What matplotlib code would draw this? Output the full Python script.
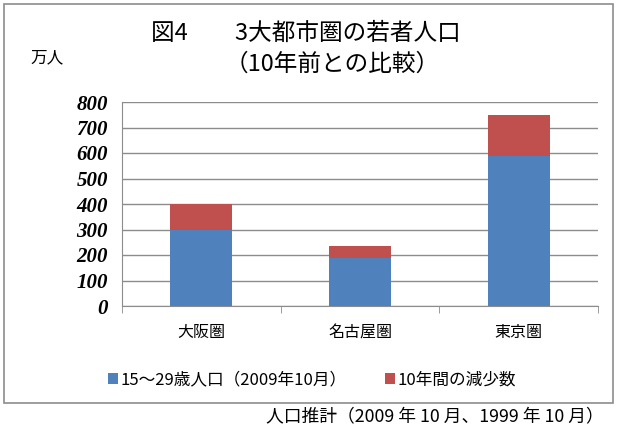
import matplotlib
matplotlib.use("Agg")
import matplotlib.pyplot as plt
from matplotlib.patches import Rectangle
import numpy as np

plt.rcParams['font.family'] = ['Noto Sans CJK JP', 'DejaVu Sans']

categories = ['大阪圏', '名古屋圏', '東京圏']
pop_2009 = [298, 190, 588]
decrease_10y = [102, 44, 162]
yticks = [0, 100, 200, 300, 400, 500, 600, 700, 800]
series_names = ['15～29歳人口（2009年10月）', '10年間の減少数']
blue = '#4F81BD'
red = '#C0504D'

W, H = 625, 430
fig = plt.figure(figsize=(W/100, H/100), dpi=100)
fig.patch.set_facecolor('white')

# outer chart frame
fig.patches.append(Rectangle((4/W, 1-403/H), 609/W, 399/H, transform=fig.transFigure,
                             fill=False, edgecolor='#8c8c8c', linewidth=1.2))

ax = fig.add_axes([122/W, 1-306/H, (598-122)/W, (306-102)/H])
x = np.arange(len(categories))
ax.bar(x, pop_2009, width=0.39, color=blue, zorder=3, label=series_names[0])
ax.bar(x, decrease_10y, width=0.39, bottom=pop_2009, color=red, zorder=3, label=series_names[1])

ax.set_xlim(-0.5, 2.5)
ax.set_ylim(0, 800)
ax.set_yticks(yticks)
ax.set_yticklabels([str(v) for v in yticks], family='Liberation Serif',
                   fontstyle='italic', fontweight='bold', fontsize=15)
ax.yaxis.grid(True, color='#8c8c8c', linewidth=1, zorder=0)
ax.set_axisbelow(True)
ax.tick_params(axis='y', length=0, pad=10)

ax.set_xticks(x)
ax.set_xticklabels(categories, fontsize=11.5)
ax.tick_params(axis='x', length=0, pad=13)
ax.set_xticks([-0.5, 0.5, 1.5, 2.5], minor=True)
ax.tick_params(axis='x', which='minor', length=5, color='#8c8c8c', direction='out')

for s in ['top', 'right']:
    ax.spines[s].set_visible(False)
ax.spines['left'].set_color('#8c8c8c')
ax.spines['bottom'].set_color('#8c8c8c')

fig.text(306/W, 1-33/H, '図4　　3大都市圏の若者人口', ha='center', va='center', fontsize=17)
fig.text(332/W, 1-64/H, '（10年前との比較）', ha='center', va='center', fontsize=17)
fig.text(47/W, 1-58/H, '万人', ha='center', va='center', fontsize=12)

leg = fig.legend(loc='center', bbox_to_anchor=(312/W, 1-380/H), ncol=2, frameon=False,
                 fontsize=12, handlelength=0.6, handleheight=0.6, handletextpad=0.15,
                 columnspacing=2.3)

fig.text(604/W, 1-416/H, '人口推計（2009 年 10 月、1999 年 10 月）', ha='right', va='center', fontsize=12.8)

fig.savefig('out.png', dpi=100)
